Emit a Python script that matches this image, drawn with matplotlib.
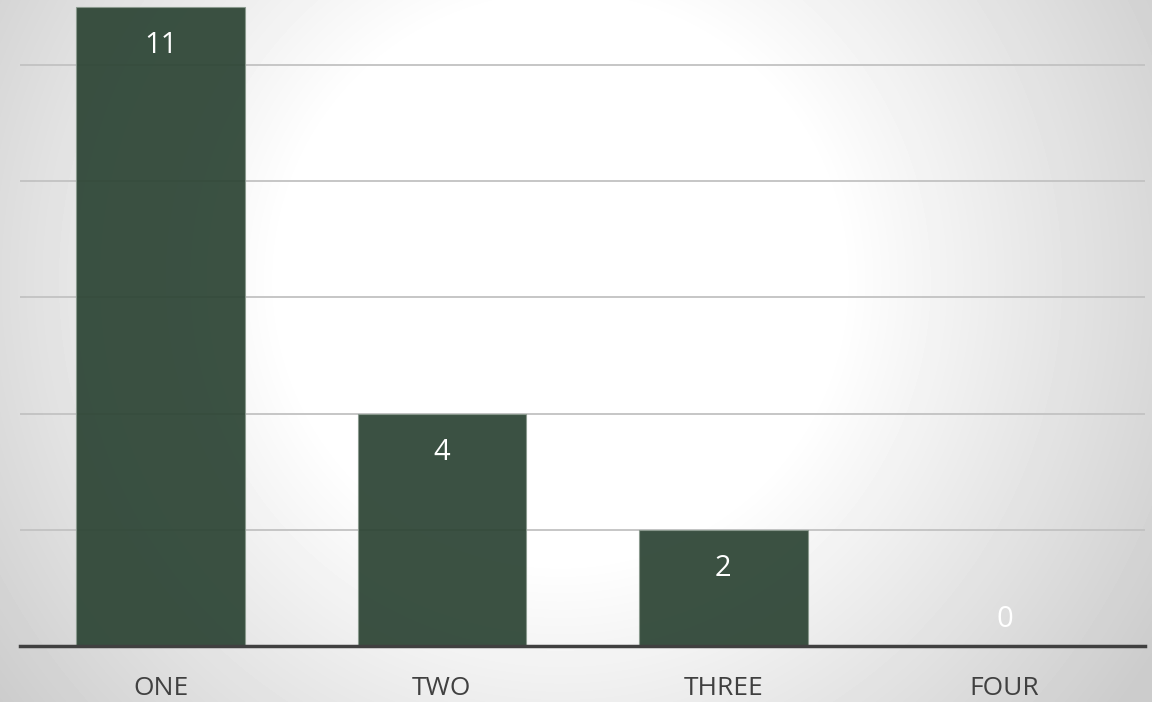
import numpy as np
import matplotlib
matplotlib.use("Agg")
import matplotlib.pyplot as plt

categories = ["ONE", "TWO", "THREE", "FOUR"]
values = [11, 4, 2, 0]

plt.rcParams['font.family'] = ['Open Sans', 'DejaVu Sans']

fig = plt.figure(figsize=(11.52, 7.02), dpi=100)

# radial gradient background (white centre, grey edges)
bg = fig.add_axes([0, 0, 1, 1], zorder=0)
yy, xx = np.mgrid[0:702, 0:1152]
r = np.hypot(xx - 560, yy - 280)
t = np.clip((r - 280) / 420.0, 0, 1)
shade = 1.0 - 0.2 * t
bg.imshow(shade, cmap='gray', vmin=0, vmax=1, aspect='auto', interpolation='bilinear')
bg.axis('off')

ax = fig.add_axes([20 / 1152, 56 / 702, 1125 / 1152, 646 / 702], zorder=1)
ax.patch.set_alpha(0)
x = np.arange(len(categories))
ax.bar(x, values, width=0.6, color='#2c4434', alpha=0.93,
       edgecolor='#8a9a8e', linewidth=0.8, zorder=2)

ax.set_xlim(-0.5, len(categories) - 0.5)
ax.set_ylim(0, 11.12)
ax.set_yticks([2, 4, 6, 8, 10])
ax.yaxis.grid(True, color='#c2c2c2', linewidth=1.3)
ax.set_axisbelow(True)
ax.tick_params(axis='y', left=False, labelleft=False)
ax.tick_params(axis='x', bottom=False, labelsize=19, labelcolor='#404040', pad=18)
ax.set_xticks(x)
ax.set_xticklabels(categories)
for s in ['top', 'right', 'left']:
    ax.spines[s].set_visible(False)
ax.spines['bottom'].set_color('#404040')
ax.spines['bottom'].set_linewidth(2.5)
ax.spines['bottom'].set_zorder(3)

# value labels: inside the bar top, above the axis for empty bars
for xi, v in zip(x, values):
    off = -28 if v > 0 else 19
    ax.annotate(str(v), (xi, v), xytext=(0, off), textcoords='offset points',
                ha='center', va='center', color='white', fontsize=21, zorder=4)

fig.savefig('out.png', dpi=100)
